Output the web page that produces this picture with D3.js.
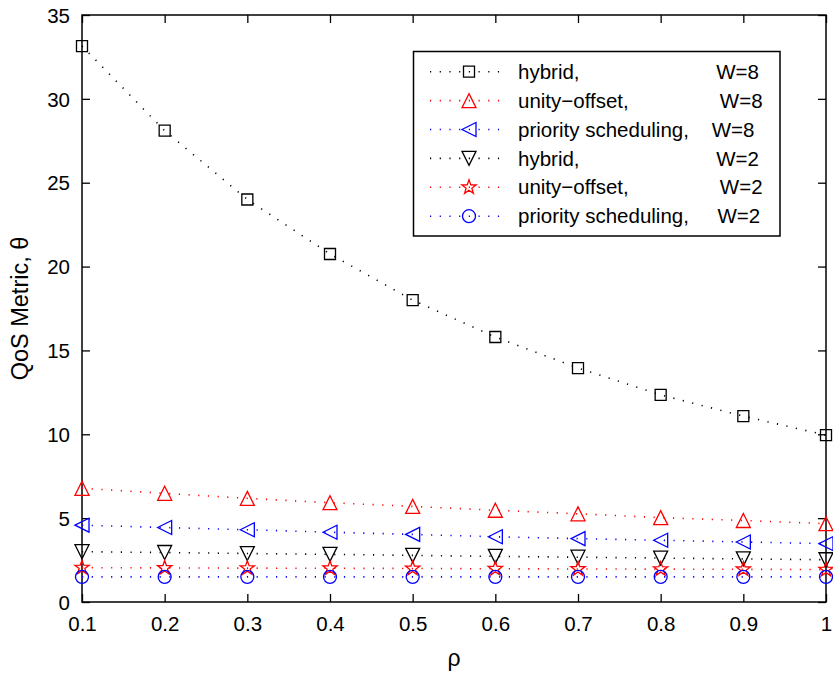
<!DOCTYPE html>
<html><head><meta charset="utf-8">
<script src="https://cdn.jsdelivr.net/npm/d3@7"></script>
<style>
html,body{margin:0;padding:0;background:#fff;}
text{font-family:"Liberation Sans",Arial,Helvetica,sans-serif;fill:#000;}
</style></head>
<body><svg id="chart" width="833" height="673"></svg>
<script>
const rho = [0.1,0.2,0.3,0.4,0.5,0.6,0.7,0.8,0.9,1.0];
const hybridW8 = [33.15,28.1,24.0,20.75,18.0,15.8,13.95,12.35,11.08,9.95];
const unityW8 = [6.78,6.48,6.18,5.92,5.7,5.47,5.26,5.03,4.86,4.67];
const priorityW8 = [4.58,4.44,4.31,4.16,4.03,3.89,3.78,3.68,3.58,3.48];
const hybridW2 = [3.0,2.95,2.89,2.84,2.78,2.72,2.67,2.62,2.57,2.52];
const unityW2 = [2.05,2.03,2.02,2.01,2.0,1.98,1.97,1.96,1.95,1.93];
const priorityW2 = [1.5,1.5,1.5,1.5,1.5,1.5,1.5,1.5,1.5,1.5];
const xTicks = [0.1,0.2,0.3,0.4,0.5,0.6,0.7,0.8,0.9,1];
const yTicks = [0,5,10,15,20,25,30,35];
const legendLabels = [
  "hybrid,                        W=8",
  "unity\u2212offset,                W=8",
  "priority scheduling,    W=8",
  "hybrid,                        W=2",
  "unity\u2212offset,                W=2",
  "priority scheduling,     W=2"
];
const seriesValues = [hybridW8, unityW8, priorityW8, hybridW2, unityW2, priorityW2];
const seriesColors = ["#000","#ff0000","#0000ff","#000","#ff0000","#0000ff"];
const seriesMarkers = ["square","up","left","down","star","circle"];

const svg = d3.select("#chart");
const L=82, R=826, T=15, B=602;
const x = d3.scaleLinear().domain([0.1,1]).range([L,R]);
const y = d3.scaleLinear().domain([0,35]).range([B,T]);

function markerPath(type){
  const p = d3.path();
  if(type==="square"){ const h=5.5; p.rect(-h,-h,2*h,2*h); }
  else if(type==="up"){ const r=7; p.moveTo(0,-r); p.lineTo(r,r); p.lineTo(-r,r); p.closePath(); }
  else if(type==="down"){ const r=7; p.moveTo(0,r); p.lineTo(r,-r); p.lineTo(-r,-r); p.closePath(); }
  else if(type==="left"){ const r=7; p.moveTo(-r,0); p.lineTo(r,-r); p.lineTo(r,r); p.closePath(); }
  else if(type==="circle"){ const r=6.5; p.moveTo(r,0); p.arc(0,0,r,0,2*Math.PI); p.closePath(); }
  else if(type==="star"){
    const ro=7.5, ri=3.0;
    for(let i=0;i<10;i++){
      const a = -Math.PI/2 + i*Math.PI/5;
      const rr = i%2===0?ro:ri;
      if(i===0) p.moveTo(rr*Math.cos(a), rr*Math.sin(a)); else p.lineTo(rr*Math.cos(a), rr*Math.sin(a));
    }
    p.closePath();
  }
  return p.toString();
}

// axes
const gx = svg.append("g").attr("transform",`translate(0,${B})`)
  .call(d3.axisBottom(x).tickValues(xTicks).tickFormat(d=>d===1?"1":d3.format(".1f")(d)).tickSizeInner(-8).tickSizeOuter(0).tickPadding(14));
const gxt = svg.append("g").attr("transform",`translate(0,${T})`)
  .call(d3.axisTop(x).tickValues(xTicks).tickFormat("").tickSizeInner(-8).tickSizeOuter(0));
const gy = svg.append("g").attr("transform",`translate(${L},0)`)
  .call(d3.axisLeft(y).tickValues(yTicks).tickSizeInner(-8).tickSizeOuter(0).tickPadding(12));
const gyr = svg.append("g").attr("transform",`translate(${R},0)`)
  .call(d3.axisRight(y).tickValues(yTicks).tickFormat("").tickSizeInner(-8).tickSizeOuter(0));
[gx,gxt,gy,gyr].forEach(g=>{
  g.select(".domain").remove();
  g.selectAll(".tick line").attr("stroke","#000").attr("stroke-width",1.3);
  g.selectAll(".tick text").style("font-size","20.5px").attr("fill","#000");
});
gx.selectAll(".tick text").attr("dy","0.71em");
gy.selectAll(".tick text").attr("dy","0.35em");
svg.append("rect").attr("x",L).attr("y",T).attr("width",R-L).attr("height",B-T)
  .attr("fill","none").attr("stroke","#000").attr("stroke-width",1.5);

// series
const line = d3.line().x((d,i)=>x(rho[i])).y(d=>y(d));
seriesValues.forEach((vals,k)=>{
  svg.append("path").datum(vals).attr("d",line).attr("fill","none")
    .attr("stroke",seriesColors[k]).attr("stroke-width",1.6)
    .attr("stroke-dasharray","1.2 8.5").attr("stroke-linecap","butt");
  svg.append("g").selectAll("path").data(vals).join("path")
    .attr("transform",(d,i)=>`translate(${x(rho[i])},${y(d)})`)
    .attr("d",markerPath(seriesMarkers[k])).attr("fill","none")
    .attr("stroke",seriesColors[k]).attr("stroke-width",1.3);
});

// legend
const lg = svg.append("g");
lg.append("rect").attr("x",413.5).attr("y",51.5).attr("width",366.5).attr("height",184.5)
  .attr("fill","#fff").attr("stroke","#000").attr("stroke-width",1.5);
legendLabels.forEach((lab,k)=>{
  const cy = 71.7 + k*28.9;
  lg.append("line").attr("x1",430).attr("x2",506).attr("y1",cy).attr("y2",cy)
    .attr("stroke",seriesColors[k]).attr("stroke-width",1.6).attr("stroke-dasharray","1.2 8.5");
  lg.append("path").attr("transform",`translate(469,${cy})`).attr("d",markerPath(seriesMarkers[k]))
    .attr("fill","none").attr("stroke",seriesColors[k]).attr("stroke-width",1.3);
  lg.append("text").attr("x",518).attr("y",cy).attr("dy","0.35em")
    .style("font-size","20.5px").style("white-space","pre").text(lab);
});

// axis labels
svg.append("text").attr("x",(L+R)/2).attr("y",666).attr("text-anchor","middle")
  .style("font-size","23px").text("\u03c1");
svg.append("text").attr("transform",`translate(28,${(T+B)/2}) rotate(-90)`).attr("text-anchor","middle")
  .style("font-size","23.5px").text("QoS Metric, \u03b8");
</script></body></html>
